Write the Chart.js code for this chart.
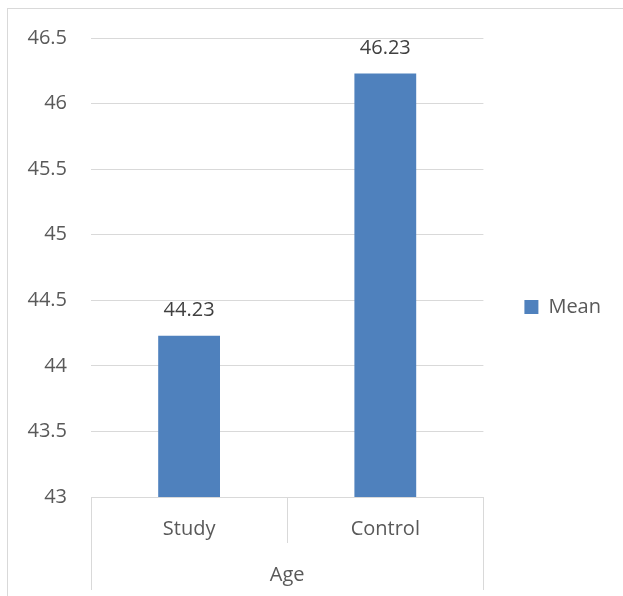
<!DOCTYPE html>
<html><head><meta charset="utf-8">
<script src="https://cdn.jsdelivr.net/npm/chart.js@4.4.1/dist/chart.umd.min.js"></script>
<style>
html,body{margin:0;padding:0;background:#fff;overflow:hidden}
#wrap{position:relative;width:623px;height:596px;overflow:hidden}
#frame{position:absolute;left:7px;top:8px;width:700px;height:700px;border:1px solid #d9d9d9;box-sizing:border-box}
canvas{position:absolute;left:0;top:0}
</style></head><body>
<div id="wrap"><div id="frame"></div><canvas id="c" width="623" height="596" style="width:623px;height:596px"></canvas></div>
<script>
const categories = ['Study', 'Control'];
const groupLabels = ['Age'];
const seriesName = 'Mean';
const meanValues = [44.23, 46.23];
const yTicks = [43, 43.5, 44, 44.5, 45, 45.5, 46, 46.5];

const GRID = '#d9d9d9';
const TEXT = '#595959';
Chart.defaults.font.family = '"Open Sans", sans-serif';
Chart.defaults.font.size = 20;
Chart.defaults.color = TEXT;

const valueLabels = {
  id: 'valueLabels',
  afterDatasetsDraw(chart) {
    const ctx = chart.ctx;
    chart.data.datasets.forEach((ds, i) => {
      chart.getDatasetMeta(i).data.forEach((bar, j) => {
        ctx.save();
        ctx.font = '20px "Open Sans", sans-serif';
        ctx.fillStyle = '#404040';
        ctx.textAlign = 'center';
        ctx.textBaseline = 'middle';
        ctx.fillText(ds.data[j].toFixed(2), bar.x, bar.y - 25);
        ctx.restore();
      });
    });
  }
};

new Chart(document.getElementById('c'), {
  type: 'bar',
  data: {
    labels: categories,
    datasets: [{
      label: seriesName,
      data: meanValues,
      backgroundColor: '#4f81bd',
      borderWidth: 0,
      categoryPercentage: 1,
      barPercentage: 0.315
    }]
  },
  options: {
    responsive: false,
    animation: false,
    devicePixelRatio: 1,
    layout: { padding: { top: 24, left: 0, right: 12, bottom: 6 } },
    plugins: {
      tooltip: { enabled: false },
      legend: {
        position: 'right',
        labels: { boxWidth: 14, boxHeight: 14, padding: 41, color: TEXT, font: { size: 20 } }
      }
    },
    scales: {
      y: {
        min: 43, max: 46.5,
        afterBuildTicks: s => { s.ticks = yTicks.map(v => ({ value: v })); },
        afterFit: s => { s.width = 91; s.paddingTop = 38; },
        grid: { color: GRID, drawTicks: false },
        border: { display: false },
        ticks: { padding: 24, color: TEXT, callback: v => String(v) }
      },
      x: {
        type: 'category',
        weight: 0,
        offset: true,
        afterFit: s => { s.height = 46; },
        grid: { offset: true, drawOnChartArea: false, drawTicks: true, tickLength: 46, color: GRID },
        border: { color: GRID },
        ticks: { padding: -26, color: TEXT, maxRotation: 0 }
      },
      x2: {
        type: 'category',
        position: 'bottom',
        weight: 1,
        labels: groupLabels,
        offset: true,
        afterFit: s => { s.height = 47; },
        grid: { offset: true, drawOnChartArea: false, drawTicks: true, tickLength: 47, color: GRID },
        border: { display: false },
        ticks: { padding: -27, color: TEXT, maxRotation: 0 }
      }
    }
  },
  plugins: [valueLabels]
});
</script>
</body></html>
